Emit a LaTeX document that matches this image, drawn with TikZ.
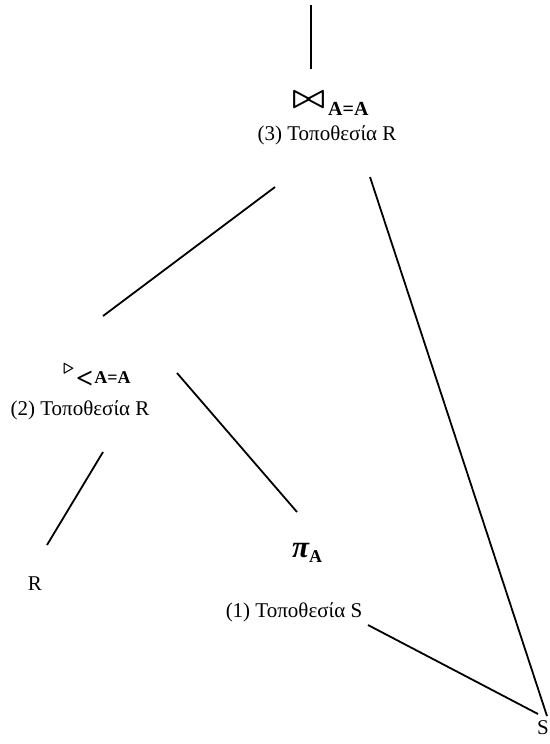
\documentclass[tikz,border=0pt]{standalone}
\usepackage{fontspec}
\setmainfont{Liberation Serif}
\usepackage{tikz}

\begin{document}
\begin{tikzpicture}[x=1pt, y=-1pt,
  lbl/.style={inner sep=0pt, font=\fontsize{21}{24}\selectfont},
  op/.style={inner sep=0pt, anchor=base west, font=\fontsize{20}{22}\selectfont\bfseries},
  edge/.style={line width=1.8pt}
]
\useasboundingbox (0,0) rectangle (549,744);
% operators
\node[op] (join) at (292,115) {\raisebox{8pt}{\resizebox{33pt}{15pt}{\boldmath$\bowtie$}}\hspace{3pt}A=A};
\node[lbl] (loc3) at (327,135) {(3) Τοποθεσία R};
\node[op, font=\fontsize{18}{20}\selectfont\bfseries] (semi) at (63,383) {\raisebox{10pt}{\resizebox{11pt}{9pt}{\boldmath$\triangleright$}}\hspace{2pt}\raisebox{-5pt}{\fontsize{30}{30}\selectfont<}\hspace{1pt}A=A};
\node[lbl] (loc2) at (80,410) {(2) Τοποθεσία R};
\node[op, font=\fontsize{31}{32}\selectfont\bfseries\itshape] (proj) at (292,557) {π\raisebox{-5pt}{\fontsize{18}{18}\selectfont\upshape A}};
\node[lbl] (loc1) at (294,612) {(1) Τοποθεσία S};
\node[lbl] (relR) at (35,584) {R};
\node[lbl, anchor=west] (relS) at (537,728) {S};
% line ends
\coordinate (top) at (311,5);
\coordinate (topb) at (311,69);
\coordinate (ja) at (275,187);
\coordinate (jb) at (103,316);
\coordinate (jc) at (370,177);
\coordinate (jd) at (547,716);
\coordinate (sa) at (103,452);
\coordinate (sb) at (47,545);
\coordinate (sc) at (177,373);
\coordinate (sd) at (297,512);
\coordinate (pa) at (368,625);
\coordinate (pb) at (538,714);
% edges
\draw[edge] (top) -- (topb);
\draw[edge] (ja) -- (jb);
\draw[edge] (jc) -- (jd);
\draw[edge] (sa) -- (sb);
\draw[edge] (sc) -- (sd);
\draw[edge] (pa) -- (pb);
\end{tikzpicture}
\end{document}
